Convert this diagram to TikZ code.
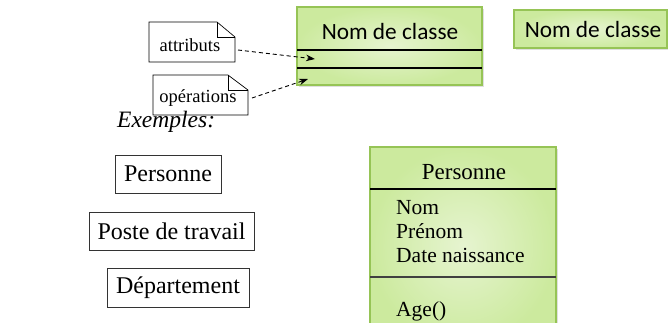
\documentclass[tikz,border=0pt]{standalone}
\usepackage{fontspec}
\setmainfont{Liberation Serif}
\newfontfamily\calib{Carlito}
\usetikzlibrary{arrows.meta,shadows}

\definecolor{umlfillout}{RGB}{204,234,158}
\definecolor{umlfillin}{RGB}{230,244,208}
\definecolor{umlborder}{RGB}{150,196,86}

\tikzset{
  umlclass/.style={draw=umlborder, line width=1.2pt, inner color=umlfillin, outer color=umlfillout,
    drop shadow={opacity=0.25, shadow xshift=1.5pt, shadow yshift=-1.5pt}},
  divider/.style={draw=black, line width=1.1pt},
  notebox/.style={draw=black, line width=0.7pt, fill=white},
  notetext/.style={font=\fontsize{18.5}{20}\selectfont, inner sep=0pt},
  plainbox/.style={draw=black!80, line width=0.8pt, inner sep=0pt, font=\fontsize{24}{26}\selectfont},
  calibtext/.style={font=\calib\fontsize{23.3}{26}\selectfont, inner sep=0pt},
  itemtext/.style={font=\fontsize{21.5}{24}\selectfont, inner sep=0pt, anchor=west},
  noteline/.style={dash pattern=on 4pt off 3pt, line width=0.9pt, -{Stealth[length=9pt,width=6.5pt]}}
}

\begin{document}
\begin{tikzpicture}[x=1pt,y=-1pt]
  \useasboundingbox (0,0) rectangle (668,322);
  \clip (0,0) rectangle (668,322);

  % class with empty compartments
  \path[umlclass] (297,7) rectangle (482,85);
  \draw[divider] (297,50) -- (482,50);
  \draw[divider] (297,68) -- (482,68);
  \node[calibtext] (classname) at (390,31) {Nom de classe};
  \coordinate (attrend) at (315,59);
  \coordinate (opend) at (308,79);

  % class shown as a single box
  \path[umlclass] (514,10) rectangle (667,48);
  \node[calibtext] (classname2) at (593,29) {Nom de classe};

  % note boxes with folded corner
  \draw[notebox] (149,62) -- (149,22) -- (217,22) -- (235,37) -- (235,62) -- cycle;
  \draw[line width=0.7pt] (217,22) -- (217,37) -- (235,37);
  \node[notetext] (attr) at (190,45) {attributs};
  \coordinate (attrout) at (238,50);

  \draw[notebox] (153,115) -- (153,75) -- (228,75) -- (248,90) -- (248,115) -- cycle;
  \draw[line width=0.7pt] (228,75) -- (228,90) -- (248,90);
  \node[notetext] (ops) at (198,98) {opérations};
  \coordinate (opsout) at (252,98);

  \draw[noteline] (attrout) -- (attrend);
  \draw[noteline] (opsout) -- (opend);

  % examples
  \node[anchor=west, inner sep=0pt, font=\itshape\fontsize{23.5}{26}\selectfont] (ex) at (117,122) {Exemples:};

  \node[plainbox, minimum width=106pt, minimum height=38pt] (pers) at (168,174) {Personne};
  \node[plainbox, minimum width=165pt, minimum height=38pt] (poste) at (171.5,231) {Poste de travail};
  \node[plainbox, minimum width=142pt, minimum height=39pt] (dept) at (178,287.5) {Département};

  % detailed class
  \path[umlclass] (370,147) rectangle (556,345);
  \draw[divider] (370,189) -- (556,189);
  \draw[divider, draw=black!75] (370,277) -- (556,277);
  \node[font=\fontsize{23}{26}\selectfont, inner sep=0pt] (pname) at (464,172) {Personne};
  \node[itemtext] (nom) at (396,208) {Nom};
  \node[itemtext] (prenom) at (396,231) {Prénom};
  \node[itemtext] (date) at (396,255) {Date naissance};
  \node[itemtext] (age) at (396,311) {Age()};
\end{tikzpicture}
\end{document}
